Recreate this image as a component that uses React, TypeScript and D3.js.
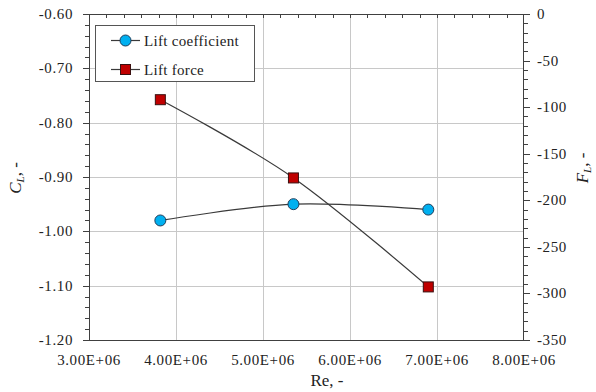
import { useRef, useEffect } from 'react';
import * as d3 from 'd3';

// Values
const reynolds = [3.82e6, 5.35e6, 6.9e6];
const liftCoefficient = [-0.98, -0.95, -0.96];
const liftForce = [-92, -176, -293];

const xTicks = [3e6, 4e6, 5e6, 6e6, 7e6, 8e6];
const leftTicks = [-0.6, -0.7, -0.8, -0.9, -1.0, -1.1, -1.2];
const rightTicks = [0, -50, -100, -150, -200, -250, -300, -350];

const legendItems = ['Lift coefficient', 'Lift force'];

const WIDTH = 596;
const HEIGHT = 392;
const FONT = '"Liberation Serif", "Times New Roman", serif';

export default function App() {
  const svgRef = useRef<SVGSVGElement>(null);

  useEffect(() => {
    if (!svgRef.current) return;
    const svg = d3.select(svgRef.current);
    svg.selectAll('*').remove();

    const left = 89;
    const right = 524;
    const top = 14;
    const bottom = 340;

    const x = d3.scaleLinear().domain([3e6, 8e6]).range([left, right]);
    const yL = d3.scaleLinear().domain([-1.2, -0.6]).range([bottom, top]);
    const yR = d3.scaleLinear().domain([-350, 0]).range([bottom, top]);

    const axisColor = '#404040';
    const gridColor = '#c8c8c8';

    svg.append('rect').attr('width', WIDTH).attr('height', HEIGHT).attr('fill', '#fff');

    // gridlines
    const grid = svg.append('g').attr('stroke', gridColor).attr('stroke-width', 1);
    grid
      .selectAll('.vg')
      .data(xTicks.slice(1, -1))
      .join('line')
      .attr('x1', (d) => Math.round(x(d)) + 0.5)
      .attr('x2', (d) => Math.round(x(d)) + 0.5)
      .attr('y1', top)
      .attr('y2', bottom);
    grid
      .selectAll('.hg')
      .data(leftTicks.slice(1, -1))
      .join('line')
      .attr('x1', left)
      .attr('x2', right)
      .attr('y1', (d) => Math.round(yL(d)) + 0.5)
      .attr('y2', (d) => Math.round(yL(d)) + 0.5);

    // frame
    const frame = svg.append('g').attr('stroke', axisColor).attr('stroke-width', 1);
    frame.append('line').attr('x1', left).attr('x2', right).attr('y1', top + 0.5).attr('y2', top + 0.5);
    frame.append('line').attr('x1', left).attr('x2', right).attr('y1', bottom + 0.5).attr('y2', bottom + 0.5);
    frame.append('line').attr('x1', left + 0.5).attr('x2', left + 0.5).attr('y1', top).attr('y2', bottom + 1);
    frame.append('line').attr('x1', right - 0.5).attr('x2', right - 0.5).attr('y1', top).attr('y2', bottom + 1);

    // left ticks (major + minor, outside)
    const leftMinor = d3.range(0, 31).map((i) => -1.2 + i * 0.02);
    frame
      .selectAll('.lt')
      .data(leftMinor)
      .join('line')
      .attr('x1', (_, i) => left - (i % 5 === 0 ? 6 : 4))
      .attr('x2', left)
      .attr('y1', (d) => Math.round(yL(d)) + 0.5)
      .attr('y2', (d) => Math.round(yL(d)) + 0.5);

    // right ticks (outside)
    const rightMinor = d3.range(0, 36).map((i) => -350 + i * 10);
    frame
      .selectAll('.rt')
      .data(rightMinor)
      .join('line')
      .attr('x1', right)
      .attr('x2', (_, i) => right + (i % 5 === 0 ? 6 : 4))
      .attr('y1', (d) => Math.round(yR(d)) + 0.5)
      .attr('y2', (d) => Math.round(yR(d)) + 0.5);

    // top minor ticks (inside)
    const topMinor = d3.range(1, 25).map((i) => 3e6 + i * 0.2e6);
    frame
      .selectAll('.tt')
      .data(topMinor)
      .join('line')
      .attr('x1', (d) => Math.round(x(d)) + 0.5)
      .attr('x2', (d) => Math.round(x(d)) + 0.5)
      .attr('y1', top)
      .attr('y2', top + 4);

    // tick labels
    const labels = svg
      .append('g')
      .attr('font-family', FONT)
      .attr('font-size', 15)
      .attr('letter-spacing', 0.6)
      .attr('fill', '#222');
    labels
      .selectAll('.xl')
      .data(xTicks)
      .join('text')
      .attr('x', (d) => x(d))
      .attr('y', 365)
      .attr('text-anchor', 'middle')
      .text((d) => (d / 1e6).toFixed(2) + 'E+06');
    labels
      .selectAll('.ll')
      .data(leftTicks)
      .join('text')
      .attr('x', 73)
      .attr('y', (d) => yL(d) + 5)
      .attr('text-anchor', 'end')
      .text((d) => d.toFixed(2));
    labels
      .selectAll('.rl')
      .data(rightTicks)
      .join('text')
      .attr('x', 537)
      .attr('y', (d) => yR(d) + 5)
      .attr('text-anchor', 'start')
      .text((d) => String(d));

    // axis titles
    svg
      .append('text')
      .attr('x', 327)
      .attr('y', 386)
      .attr('text-anchor', 'middle')
      .attr('font-family', FONT)
      .attr('font-size', 17)
      .attr('fill', '#222')
      .text('Re, -');

    const yTitle = (tx: number, ty: number, sym: string) => {
      const t = svg
        .append('text')
        .attr('transform', `translate(${tx},${ty}) rotate(-90)`)
        .attr('text-anchor', 'middle')
        .attr('font-family', FONT)
        .attr('font-size', 17)
        .attr('fill', '#222');
      t.append('tspan').attr('font-style', 'italic').text(sym);
      t.append('tspan').attr('font-style', 'italic').attr('font-size', 11).attr('dy', 3).text('L');
      t.append('tspan').attr('dy', -3).text(', -');
    };
    yTitle(21, 178, 'C');
    yTitle(588, 168, 'F');

    // series lines
    const curve = d3.curveCardinal.tension(0);
    const lineL = d3
      .line<number>()
      .x((_, i) => x(reynolds[i]))
      .y((d) => yL(d))
      .curve(curve);
    const lineR = d3
      .line<number>()
      .x((_, i) => x(reynolds[i]))
      .y((d) => yR(d))
      .curve(curve);

    svg
      .append('path')
      .attr('d', lineL(liftCoefficient))
      .attr('fill', 'none')
      .attr('stroke', '#3a3a3a')
      .attr('stroke-width', 1.2);
    svg
      .append('path')
      .attr('d', lineR(liftForce))
      .attr('fill', 'none')
      .attr('stroke', '#3a3a3a')
      .attr('stroke-width', 1.2);

    // markers
    svg
      .selectAll('.cl')
      .data(liftCoefficient)
      .join('circle')
      .attr('cx', (_, i) => x(reynolds[i]))
      .attr('cy', (d) => yL(d))
      .attr('r', 5.5)
      .attr('fill', '#00b0f0')
      .attr('stroke', '#1f3d5a')
      .attr('stroke-width', 1);
    svg
      .selectAll('.fl')
      .data(liftForce)
      .join('rect')
      .attr('x', (_, i) => x(reynolds[i]) - 5)
      .attr('y', (d) => yR(d) - 5)
      .attr('width', 10)
      .attr('height', 10)
      .attr('fill', '#c00000')
      .attr('stroke', '#3a1010')
      .attr('stroke-width', 1);

    // legend
    const lg = svg.append('g');
    lg.append('rect')
      .attr('x', 95.5)
      .attr('y', 25.5)
      .attr('width', 159)
      .attr('height', 56)
      .attr('fill', '#fff')
      .attr('stroke', '#555')
      .attr('stroke-width', 1);
    legendItems.forEach((name, i) => {
      const cy = 40.5 + i * 29;
      lg.append('line')
        .attr('x1', 111)
        .attr('x2', 140)
        .attr('y1', cy)
        .attr('y2', cy)
        .attr('stroke', '#3a3a3a')
        .attr('stroke-width', 1.2);
      if (i === 0) {
        lg.append('circle')
          .attr('cx', 125.5)
          .attr('cy', cy)
          .attr('r', 5.5)
          .attr('fill', '#00b0f0')
          .attr('stroke', '#1f3d5a');
      } else {
        lg.append('rect')
          .attr('x', 120.5)
          .attr('y', cy - 5)
          .attr('width', 10)
          .attr('height', 10)
          .attr('fill', '#c00000')
          .attr('stroke', '#3a1010');
      }
      lg.append('text')
        .attr('x', 144)
        .attr('y', cy + 5)
        .attr('font-family', FONT)
        .attr('font-size', 15)
        .attr('letter-spacing', 0.3)
        .attr('fill', '#222')
        .text(name);
    });
  }, []);

  return (
    <svg
      ref={svgRef}
      width={WIDTH}
      height={HEIGHT}
      viewBox={`0 0 ${WIDTH} ${HEIGHT}`}
      style={{ position: 'absolute', left: 0, top: 0 }}
    ></svg>
  );
}
